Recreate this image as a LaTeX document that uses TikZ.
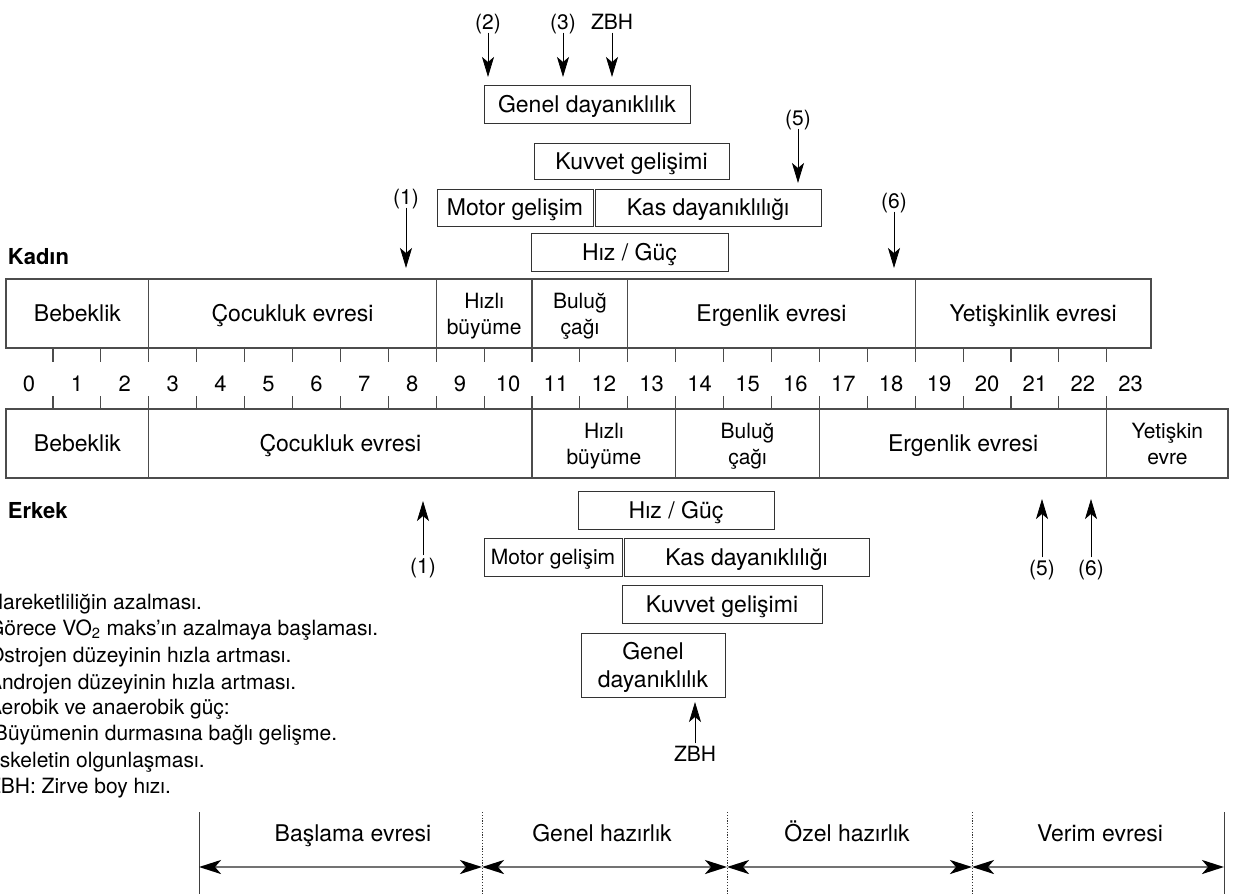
\documentclass[tikz,border=0pt]{standalone}
\usepackage{fontspec}
\setmainfont{TeX Gyre Heros}
\usetikzlibrary{arrows.meta}
\newcommand\fzA{\fontsize{23}{28}\selectfont}
\newcommand\fzB{\fontsize{21}{26}\selectfont}
\newcommand\fzC{\fontsize{22}{26}\selectfont}
\newcommand\fzD{\fontsize{21}{26.3}\selectfont}
\newcommand\fzE{\fontsize{22}{26}\selectfont\bfseries}
\begin{document}
\begin{tikzpicture}[x=1pt,y=-1pt,
 every node/.style={inner sep=0pt,outer sep=0pt},
 box/.style={draw=black!80,line width=0.9pt,font=\fzA,text height=16.6pt,text depth=0pt},
 boxsm/.style={box,font=\fzB,text height=15.1pt},
 boxii/.style={draw=black!80,line width=0.9pt,font=\fzA,align=center,text depth=0pt},
 cell/.style={draw=black!70,line width=1.1pt,minimum height=69pt,font=\fzA,text height=16.6pt,text depth=0pt},
 cellii/.style={draw=black!70,line width=1.1pt,minimum height=69pt,font=\fzB,align=center,text depth=0pt},
 num/.style={font=\fzC,text height=15.6pt,text depth=0pt},
 lab/.style={font=\fzD,text height=15.1pt,text depth=0pt},
 phaselab/.style={font=\fzA,text height=16.6pt,text depth=0pt},
 leg/.style={anchor=west,font=\fzD,text height=15.1pt,text depth=0pt},
 sexlab/.style={anchor=west,font=\fzE,text height=15.8pt,text depth=0pt},
 tickln/.style={draw=black!70,line width=1.1pt},
 arr/.style={draw=black,line width=0.8pt,-{Stealth[length=20pt,width=12pt,inset=5pt]},shorten <=3pt},
 phase/.style={draw=black!55,line width=2.5pt,{Stealth[length=22pt,width=14pt,inset=6pt,color=black]}-{Stealth[length=22pt,width=14pt,inset=6pt,color=black]}},
 endline/.style={draw=black!75,line width=1pt},
 midline/.style={draw=black!80,line width=0.8pt,dash pattern=on 1.2pt off 1.6pt}
]
\useasboundingbox (0,0) rectangle (1233,894);

% ---------- top labels and arrows ----------
\node[lab] (t2) at (488,22) {(2)};
\node[lab] (t3) at (563,22) {(3)};
\node[lab] (tz) at (612,22) {ZBH};
\coordinate (t2e) at (488,77);
\coordinate (t3e) at (563,77);
\coordinate (tze) at (612,77);
\draw[arr] (t2) -- (t2e);
\draw[arr] (t3) -- (t3e);
\draw[arr] (tz) -- (tze);

\node[box,minimum width=206pt,minimum height=38pt] (gdu) at (587,104) {Genel dayanıklılık};
\node[box,minimum width=195pt,minimum height=36pt] (kgu) at (631.5,161) {Kuvvet gelişimi};
\node[box,minimum width=156pt,minimum height=37pt] (mgu) at (515,207.5) {Motor gelişim};
\node[box,minimum width=226pt,minimum height=37pt] (kdu) at (708,207.5) {Kas dayanıklılığı};
\node[box,minimum width=197pt,minimum height=38pt] (hgu) at (629.5,252) {Hız / Güç};

\node[lab] (t5) at (798,118) {(5)};
\coordinate (t5e) at (798,183);
\draw[arr] (t5) -- (t5e);
\node[lab] (t1) at (406,197) {(1)};
\coordinate (t1e) at (406,268);
\draw[arr] (t1) -- (t1e);
\node[lab] (t6) at (894,201) {(6)};
\coordinate (t6e) at (894,268);
\draw[arr] (t6) -- (t6e);

\node[sexlab] (kadin) at (8,257) {Kadın};

% ---------- Kadin band ----------
\node[cell,minimum width=142.8pt] (k1) at (77.4,313.5) {Bebeklik};
\node[cell,minimum width=287.4pt] (k2) at (292.5,313.5) {Çocukluk evresi};
\node[cellii,minimum width=95.8pt] (k3) at (484.1,313.5) {Hızlı\\büyüme};
\node[cellii,minimum width=95.8pt] (k4) at (579.9,313.5) {Buluğ\\çağı};
\node[cell,minimum width=287.4pt] (k5) at (771.5,313.5) {Ergenlik evresi};
\node[cell,minimum width=235.8pt] (k6) at (1033.1,313.5) {Yetişkinlik evresi};

% ---------- scale ----------
\foreach \k in {0,...,22} {
  \draw[tickln] ({53+47.9*\k},348) -- ({53+47.9*\k},362);
  \draw[tickln] ({53+47.9*\k},396) -- ({53+47.9*\k},409);
}
\foreach \i in {0,...,23} {
  \node[num] (n\i) at ({29+47.9*\i},384) {\i};
}

% ---------- Erkek band ----------
\node[cell,minimum width=142.8pt] (e1) at (77.4,443.5) {Bebeklik};
\node[cell,minimum width=383.2pt] (e2) at (340.4,443.5) {Çocukluk evresi};
\node[cellii,minimum width=143.7pt] (e3) at (603.85,443.5) {Hızlı\\büyüme};
\node[cellii,minimum width=143.7pt] (e4) at (747.55,443.5) {Buluğ\\çağı};
\node[cell,minimum width=287.4pt] (e5) at (963.1,443.5) {Ergenlik evresi};
\node[cellii,minimum width=121.2pt] (e6) at (1167.4,443.5) {Yetişkin\\evre};

\node[sexlab] (erkek) at (8,511) {Erkek};

% ---------- lower boxes ----------
\node[box,minimum width=196pt,minimum height=38pt] (hgl) at (676,510) {Hız / Güç};
\node[boxsm,minimum width=138pt,minimum height=38pt] (mgl) at (553,557) {Motor gelişim};
\node[box,minimum width=245pt,minimum height=38pt] (kdl) at (746.5,557) {Kas dayanıklılığı};
\node[box,minimum width=200pt,minimum height=38pt] (kgl) at (722,604) {Kuvvet gelişimi};
\node[boxii,minimum width=144pt,minimum height=64pt] (gdl) at (653,665) {Genel\\dayanıklılık};

\node[lab] (b1) at (423,566) {(1)};
\coordinate (b1e) at (423,501);
\draw[arr] (b1) -- (b1e);
\node[lab] (b5) at (1042,568) {(5)};
\coordinate (b5e) at (1042,499);
\draw[arr] (b5) -- (b5e);
\node[lab] (b6) at (1091,568) {(6)};
\coordinate (b6e) at (1091,499);
\draw[arr] (b6) -- (b6e);
\node[lab] (bz) at (695,754) {ZBH};
\coordinate (bze) at (695,702);
\draw[arr] (bz) -- (bze);

% ---------- legend ----------
\node[leg] (g1) at (-12,602) {Hareketliliğin azalması.};
\node[leg] (g2) at (-12,628) {Görece VO\textsubscript{2} maks'ın azalmaya başlaması.};
\node[leg] (g3) at (-12,655) {Östrojen düzeyinin hızla artması.};
\node[leg] (g4) at (-12,682) {Androjen düzeyinin hızla artması.};
\node[leg] (g5) at (-12,707) {Aerobik ve anaerobik güç:};
\node[leg] (g6) at (-6,733) {Büyümenin durmasına bağlı gelişme.};
\node[leg] (g7) at (-6,760) {İskeletin olgunlaşması.};
\node[leg] (g8) at (-12,786) {ZBH: Zirve boy hızı.};

% ---------- training phases ----------
\coordinate (p0t) at (199,812);  \coordinate (p0b) at (199,894);
\coordinate (p1t) at (482,812);  \coordinate (p1b) at (482,894);
\coordinate (p2t) at (727,812);  \coordinate (p2b) at (727,894);
\coordinate (p3t) at (972,812);  \coordinate (p3b) at (972,894);
\coordinate (p4t) at (1224,812); \coordinate (p4b) at (1224,894);
\draw[endline] (p0t) -- (p0b);
\draw[endline] (p4t) -- (p4b);
\draw[midline] (p1t) -- (p1b);
\draw[midline] (p2t) -- (p2b);
\draw[midline] (p3t) -- (p3b);
\coordinate (p0m) at (199,867);
\coordinate (p1m) at (482,867);
\coordinate (p2m) at (727,867);
\coordinate (p3m) at (972,867);
\coordinate (p4m) at (1224,867);
\draw[phase] (p0m) -- (p1m);
\draw[phase] (p1m) -- (p2m);
\draw[phase] (p2m) -- (p3m);
\draw[phase] (p3m) -- (p4m);
\node[phaselab] (f1) at (353,833) {Başlama evresi};
\node[phaselab] (f2) at (602,833) {Genel hazırlık};
\node[phaselab] (f3) at (847,833) {Özel hazırlık};
\node[phaselab] (f4) at (1100,833) {Verim evresi};
\end{tikzpicture}
\end{document}
